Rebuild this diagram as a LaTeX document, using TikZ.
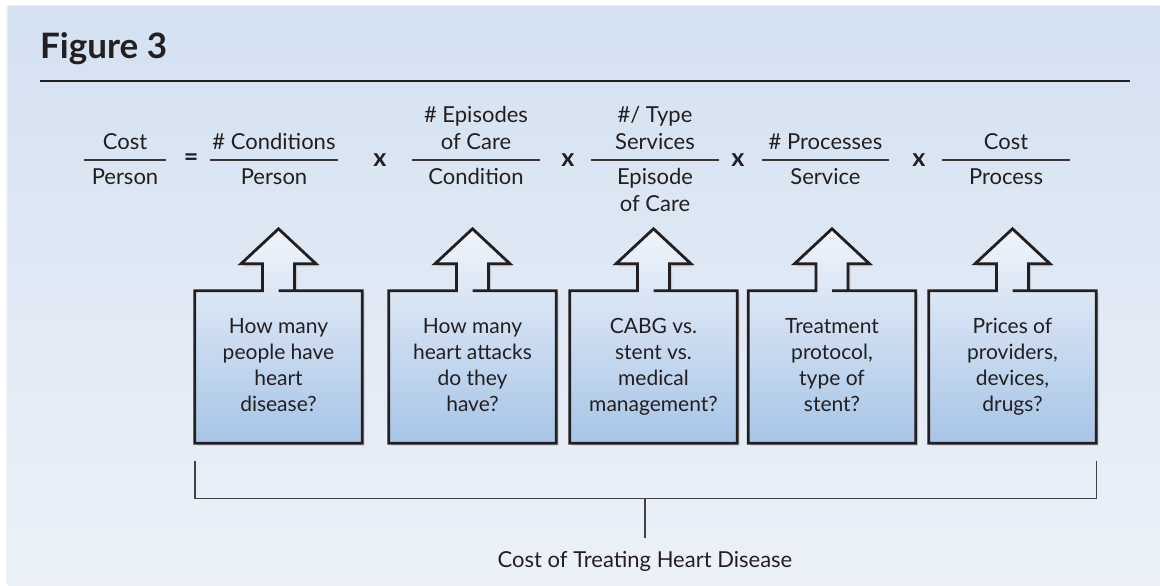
\documentclass[tikz,border=0pt]{standalone}
\usepackage{fontspec}
\setmainfont{Lato}
\usepackage{tikz}
\usetikzlibrary{shadows,backgrounds}

\definecolor{paneltop}{HTML}{D4E1F1}
\definecolor{panelbot}{HTML}{ECF1F9}
\definecolor{boxtop}{HTML}{F1F5FC}
\definecolor{boxbot}{HTML}{A7C4E6}
\definecolor{ink}{HTML}{231F20}

\begin{document}
\begin{tikzpicture}[x=1pt,y=-1pt,
  every node/.style={text=ink,inner sep=0pt},
  eq/.style={font=\fontsize{22}{27}\selectfont,align=center,anchor=base},
  op/.style={font=\fontsize{25}{25}\selectfont\bfseries},
  question/.style={font=\fontsize{21}{26}\selectfont,align=center,
    text height=93pt,text depth=5pt,minimum width=167pt,minimum height=152pt},
  fracbar/.style={draw=ink!90,line width=1.5pt},
  arrowbox/.style={draw=ink,line width=2.8pt,top color=boxtop,bottom color=boxbot,
    drop shadow={shadow xshift=2.5pt,shadow yshift=-2.5pt,opacity=.3}},
  bracket/.style={draw=ink!85,line width=1.4pt}]
\useasboundingbox (0,0) rectangle (1160,586);

\node[anchor=base west,font=\fontsize{35}{35}\selectfont\bfseries] (title) at (40,59) {Figure 3};
\draw[draw=ink,line width=1.6pt] (40,81) -- (1130,81);

% the equation
\node[eq] (n0) at (125,149) {Cost};
\node[eq] (d0) at (125,184) {Person};
\draw[fracbar] (84,160) -- (166,160);
\node[op] (equals) at (191,160) {=};
\node[eq] (n1) at (274,149) {\# Conditions};
\node[eq] (d1) at (274,184) {Person};
\draw[fracbar] (210,160) -- (338,160);
\node[op] (times1) at (380,160) {x};
\node[eq] (n2) at (476,149) {\# Episodes\\of Care};
\node[eq] (d2) at (476,184) {Condition};
\draw[fracbar] (412,160) -- (540,160);
\node[op] (times2) at (568,160) {x};
\node[eq] (n3) at (655,149) {\#/ Type\\Services};
\node[eq] (d3) at (655,211) {Episode\\of Care};
\draw[fracbar] (591,160) -- (719,160);
\node[op] (times3) at (738,160) {x};
\node[eq] (n4) at (825.5,149) {\# Processes};
\node[eq] (d4) at (825.5,184) {Service};
\draw[fracbar] (762,160) -- (889,160);
\node[op] (times4) at (919,160) {x};
\node[eq] (n5) at (1006,149) {Cost};
\node[eq] (d5) at (1006,184) {Process};
\draw[fracbar] (942,160) -- (1070,160);

% the questions
\node[question] (q1) at (278.5,367) {How many\\people have\\heart\\disease?};
\node[question] (q2) at (472.5,367) {How many\\heart attacks\\do they\\have?};
\node[question] (q3) at (653.5,367) {CABG vs.\\stent vs.\\medical\\management?};
\node[question] (q4) at (832,367) {Treatment\\protocol,\\type of\\stent?};
\node[question] (q5) at (1012.5,367) {Prices of\\providers,\\devices,\\drugs?};

% bracket
\node[eq] (total) at (645,567) {Cost of Treating Heart Disease};
\coordinate (bl) at ([yshift=-18pt]q1.south west);
\coordinate (br) at ([yshift=-18pt]q5.south east);
\draw[bracket] (bl) -- ++(0,37) coordinate (bb) -| (br);
\draw[bracket] (bb -| total) -- ([yshift=13pt]total.north);

\begin{scope}[on background layer]
\fill[white] (0,0) rectangle (1160,586);
\shade[top color=paneltop,bottom color=panelbot,
  drop shadow={shadow xshift=-2pt,shadow yshift=2pt,opacity=.12}] (8,7) rectangle (1160,586);
\path[arrowbox] (q1.north) -- ++(16,0) -- ++(0,-27) -- ++(21.5,0) -- ++(-37.5,-35) -- ++(-37.5,35) -- ++(21.5,0) -- ++(0,27) -- (q1.north west) -- (q1.south west) -- (q1.south east) -- (q1.north east) -- cycle;
\path[arrowbox] (q2.north) -- ++(16,0) -- ++(0,-27) -- ++(21.5,0) -- ++(-37.5,-35) -- ++(-37.5,35) -- ++(21.5,0) -- ++(0,27) -- (q2.north west) -- (q2.south west) -- (q2.south east) -- (q2.north east) -- cycle;
\path[arrowbox] (q3.north) -- ++(16,0) -- ++(0,-27) -- ++(21.5,0) -- ++(-37.5,-35) -- ++(-37.5,35) -- ++(21.5,0) -- ++(0,27) -- (q3.north west) -- (q3.south west) -- (q3.south east) -- (q3.north east) -- cycle;
\path[arrowbox] (q4.north) -- ++(16,0) -- ++(0,-27) -- ++(21.5,0) -- ++(-37.5,-35) -- ++(-37.5,35) -- ++(21.5,0) -- ++(0,27) -- (q4.north west) -- (q4.south west) -- (q4.south east) -- (q4.north east) -- cycle;
\path[arrowbox] (q5.north) -- ++(16,0) -- ++(0,-27) -- ++(21.5,0) -- ++(-37.5,-35) -- ++(-37.5,35) -- ++(21.5,0) -- ++(0,27) -- (q5.north west) -- (q5.south west) -- (q5.south east) -- (q5.north east) -- cycle;
\end{scope}

\end{tikzpicture}
\end{document}
